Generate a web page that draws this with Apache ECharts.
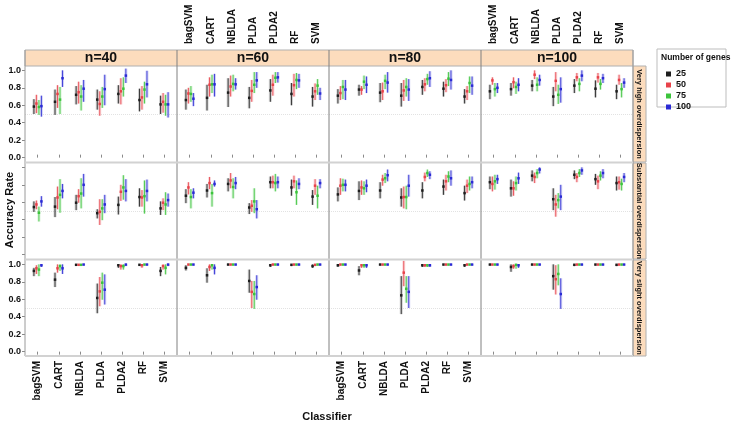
<!DOCTYPE html>
<html><head><meta charset="utf-8">
<script src="https://cdn.jsdelivr.net/npm/echarts@6/dist/echarts.min.js"></script>
<style>html,body{margin:0;padding:0;background:#fff}#c{width:733px;height:426px}</style>
</head><body><div id="c"></div>
<script>
// ---- data ----
const classifiers = ['bagSVM','CART','NBLDA','PLDA','PLDA2','RF','SVM'];
const sampleSizes = ['n=40','n=60','n=80','n=100'];
const dispersions = ['Very high overdispersion','Substantial overdispersion','Very slight overdispersion'];
const genes = ['25','50','75','100'];
const yTicks = [0, 0.2, 0.4, 0.6, 0.8, 1.0];
const refLine = 0.5;
// each panel: 4 gene groups (25,50,75,100); each group: 7 classifiers as [mean, low, high]
const VH_40 = [
 [[0.585,0.50,0.67],[0.64,0.49,0.78],[0.72,0.61,0.82],[0.665,0.55,0.78],[0.73,0.62,0.83],[0.66,0.53,0.79],[0.61,0.50,0.71]],
 [[0.62,0.51,0.72],[0.73,0.57,0.83],[0.75,0.62,0.87],[0.615,0.48,0.76],[0.76,0.61,0.91],[0.69,0.55,0.82],[0.64,0.515,0.74]],
 [[0.58,0.49,0.66],[0.665,0.50,0.81],[0.70,0.54,0.83],[0.70,0.57,0.81],[0.79,0.70,0.92],[0.78,0.62,0.87],[0.61,0.48,0.72]],
 [[0.59,0.47,0.71],[0.91,0.81,1.0],[0.79,0.64,0.89],[0.785,0.60,0.95],[0.94,0.855,1.02],[0.84,0.69,0.995],[0.61,0.46,0.75]]
];
const VH_60 = [
 [[0.66,0.55,0.78],[0.685,0.54,0.835],[0.745,0.58,0.91],[0.685,0.565,0.81],[0.77,0.64,0.90],[0.73,0.60,0.855],[0.70,0.585,0.81]],
 [[0.735,0.62,0.80],[0.835,0.70,0.92],[0.815,0.70,0.94],[0.765,0.64,0.89],[0.835,0.71,0.95],[0.83,0.70,0.96],[0.76,0.66,0.85]],
 [[0.73,0.64,0.82],[0.84,0.74,0.95],[0.845,0.76,0.95],[0.835,0.74,0.98],[0.915,0.855,0.98],[0.89,0.785,0.97],[0.825,0.72,0.90]],
 [[0.675,0.59,0.74],[0.84,0.70,0.96],[0.84,0.78,0.91],[0.885,0.80,0.98],[0.92,0.86,0.98],[0.885,0.80,0.96],[0.735,0.66,0.80]]
];
const VH_80 = [
 [[0.71,0.62,0.785],[0.78,0.71,0.835],[0.745,0.635,0.855],[0.71,0.585,0.855],[0.81,0.72,0.89],[0.79,0.70,0.87],[0.70,0.62,0.785]],
 [[0.74,0.66,0.82],[0.78,0.72,0.82],[0.76,0.66,0.86],[0.77,0.65,0.89],[0.84,0.76,0.91],[0.83,0.75,0.90],[0.76,0.66,0.82]],
 [[0.81,0.67,0.89],[0.87,0.785,0.94],[0.88,0.785,0.95],[0.81,0.70,0.91],[0.90,0.835,0.96],[0.905,0.82,0.98],[0.855,0.74,0.93]],
 [[0.78,0.66,0.89],[0.835,0.74,0.93],[0.86,0.745,0.98],[0.78,0.65,0.90],[0.91,0.81,0.99],[0.89,0.78,1.0],[0.825,0.72,0.93]]
];
const VH_100 = [
 [[0.76,0.67,0.835],[0.785,0.71,0.855],[0.825,0.76,0.89],[0.70,0.59,0.81],[0.825,0.74,0.90],[0.79,0.69,0.885],[0.76,0.67,0.835]],
 [[0.885,0.835,0.92],[0.865,0.795,0.92],[0.95,0.90,1.0],[0.88,0.76,0.98],[0.92,0.875,0.97],[0.92,0.86,0.97],[0.89,0.835,0.95]],
 [[0.785,0.70,0.855],[0.81,0.73,0.87],[0.835,0.76,0.92],[0.72,0.615,0.835],[0.845,0.76,0.91],[0.845,0.78,0.90],[0.785,0.69,0.855]],
 [[0.80,0.74,0.855],[0.835,0.76,0.91],[0.89,0.825,0.95],[0.785,0.63,0.92],[0.94,0.875,1.0],[0.91,0.855,0.96],[0.86,0.80,0.91]]
];
const SO_40 = [
 [[0.545,0.49,0.61],[0.55,0.43,0.66],[0.595,0.51,0.685],[0.475,0.415,0.52],[0.57,0.46,0.665],[0.66,0.55,0.76],[0.53,0.455,0.61]],
 [[0.575,0.52,0.62],[0.655,0.52,0.78],[0.67,0.595,0.75],[0.49,0.34,0.635],[0.72,0.615,0.80],[0.655,0.55,0.74],[0.595,0.51,0.645]],
 [[0.48,0.38,0.55],[0.685,0.48,0.865],[0.70,0.53,0.875],[0.53,0.395,0.635],[0.77,0.63,0.91],[0.67,0.47,0.85],[0.575,0.455,0.715]],
 [[0.61,0.55,0.67],[0.73,0.645,0.81],[0.80,0.665,0.925],[0.575,0.475,0.685],[0.73,0.61,0.865],[0.73,0.61,0.86],[0.625,0.55,0.70]]
];
const SO_60 = [
 [[0.675,0.59,0.75],[0.735,0.655,0.81],[0.81,0.725,0.875],[0.54,0.465,0.59],[0.83,0.76,0.895],[0.77,0.675,0.86],[0.665,0.57,0.74]],
 [[0.77,0.69,0.83],[0.82,0.75,0.89],[0.85,0.76,0.935],[0.56,0.49,0.625],[0.83,0.76,0.905],[0.84,0.76,0.905],[0.79,0.685,0.865]],
 [[0.66,0.53,0.75],[0.705,0.55,0.81],[0.775,0.645,0.875],[0.61,0.475,0.76],[0.82,0.725,0.925],[0.715,0.57,0.85],[0.675,0.53,0.79]],
 [[0.71,0.645,0.76],[0.81,0.78,0.85],[0.82,0.75,0.89],[0.52,0.415,0.625],[0.83,0.76,0.895],[0.81,0.75,0.875],[0.82,0.76,0.865]]
];
const SO_80 = [
 [[0.69,0.61,0.77],[0.73,0.625,0.84],[0.735,0.645,0.83],[0.655,0.55,0.76],[0.735,0.645,0.83],[0.78,0.685,0.86],[0.705,0.62,0.79]],
 [[0.79,0.685,0.875],[0.77,0.685,0.85],[0.86,0.79,0.915],[0.66,0.53,0.78],[0.89,0.84,0.94],[0.84,0.735,0.915],[0.79,0.705,0.86]],
 [[0.80,0.725,0.87],[0.76,0.685,0.84],[0.875,0.82,0.935],[0.66,0.52,0.79],[0.935,0.89,0.975],[0.895,0.83,0.955],[0.81,0.735,0.895]],
 [[0.80,0.725,0.86],[0.79,0.715,0.86],[0.91,0.84,0.975],[0.79,0.665,0.915],[0.915,0.865,0.955],[0.875,0.79,0.965],[0.83,0.76,0.895]]
];
const SO_100 = [
 [[0.83,0.75,0.895],[0.76,0.665,0.86],[0.905,0.84,0.965],[0.635,0.51,0.76],[0.915,0.865,0.965],[0.865,0.80,0.925],[0.82,0.735,0.895]],
 [[0.81,0.725,0.895],[0.76,0.675,0.84],[0.89,0.82,0.94],[0.575,0.435,0.685],[0.89,0.83,0.935],[0.84,0.75,0.905],[0.83,0.745,0.895]],
 [[0.84,0.745,0.915],[0.82,0.735,0.895],[0.935,0.875,0.98],[0.625,0.53,0.705],[0.935,0.89,0.98],[0.905,0.85,0.955],[0.81,0.735,0.87]],
 [[0.865,0.81,0.915],[0.875,0.81,0.94],[0.975,0.93,1.0],[0.665,0.51,0.80],[0.965,0.915,1.0],[0.935,0.875,0.98],[0.89,0.83,0.935]]
];
const VS_40 = [
 [[0.925,0.865,0.96],[0.825,0.74,0.905],[0.995,0.99,1.0],[0.615,0.44,0.78],[0.99,0.96,1.0],[0.995,0.985,1.0],[0.925,0.865,0.97]],
 [[0.955,0.89,0.99],[0.955,0.905,1.0],[0.995,0.985,1.0],[0.69,0.52,0.855],[0.98,0.94,1.0],[0.99,0.96,1.0],[0.98,0.94,1.0]],
 [[0.94,0.865,1.0],[0.98,0.925,1.0],[0.995,0.99,1.0],[0.79,0.595,0.905],[0.98,0.94,1.0],[0.998,0.99,1.0],[0.96,0.885,1.0]],
 [[0.99,0.97,1.0],[0.955,0.89,1.0],[0.998,0.99,1.0],[0.71,0.54,0.885],[0.998,0.98,1.0],[0.998,0.99,1.0],[0.998,0.98,1.0]]
];
const VS_60 = [
 [[0.96,0.93,0.99],[0.875,0.79,0.955],[0.998,0.99,1.0],[0.81,0.675,0.94],[0.99,0.97,1.0],[0.995,0.98,1.0],[0.98,0.96,1.0]],
 [[0.998,0.99,1.0],[0.97,0.925,1.0],[0.998,0.99,1.0],[0.685,0.50,0.81],[0.998,0.99,1.0],[0.998,0.99,1.0],[0.995,0.98,1.0]],
 [[0.998,0.99,1.0],[0.99,0.94,1.0],[0.998,0.99,1.0],[0.66,0.49,0.81],[0.998,0.99,1.0],[0.998,0.99,1.0],[0.998,0.99,1.0]],
 [[0.998,0.99,1.0],[0.96,0.885,1.0],[0.998,0.99,1.0],[0.74,0.595,0.875],[0.998,0.99,1.0],[0.998,0.99,1.0],[0.998,0.99,1.0]]
];
const VS_80 = [
 [[0.99,0.97,1.0],[0.93,0.875,0.98],[0.998,0.99,1.0],[0.645,0.43,0.865],[0.99,0.97,1.0],[0.998,0.99,1.0],[0.99,0.97,1.0]],
 [[0.998,0.99,1.0],[0.99,0.96,1.0],[0.998,0.99,1.0],[0.905,0.75,1.04],[0.99,0.97,1.0],[0.998,0.99,1.0],[0.998,0.99,1.0]],
 [[0.998,0.99,1.0],[0.99,0.96,1.0],[0.998,0.99,1.0],[0.72,0.56,0.865],[0.99,0.97,1.0],[0.998,0.99,1.0],[0.998,0.99,1.0]],
 [[0.998,0.99,1.0],[0.99,0.96,1.0],[0.998,0.99,1.0],[0.685,0.50,0.865],[0.99,0.97,1.0],[0.998,0.99,1.0],[0.998,0.99,1.0]]
];
const VS_100 = [
 [[0.998,0.99,1.0],[0.97,0.915,1.0],[0.998,0.99,1.0],[0.865,0.71,1.0],[0.995,0.98,1.0],[0.998,0.99,1.0],[0.995,0.98,1.0]],
 [[0.998,0.99,1.0],[0.98,0.95,1.0],[0.998,0.99,1.0],[0.83,0.655,0.99],[0.998,0.99,1.0],[0.998,0.99,1.0],[0.998,0.99,1.0]],
 [[0.998,0.99,1.0],[0.995,0.95,1.0],[0.998,0.99,1.0],[0.89,0.76,1.0],[0.998,0.99,1.0],[0.998,0.99,1.0],[0.998,0.99,1.0]],
 [[0.998,0.99,1.0],[0.99,0.96,1.0],[0.998,0.99,1.0],[0.66,0.49,0.84],[0.998,0.99,1.0],[0.998,0.99,1.0],[0.998,0.99,1.0]]
];
const panelRows = [[VH_40,VH_60,VH_80,VH_100],[SO_40,SO_60,SO_80,SO_100],[VS_40,VS_60,VS_80,VS_100]];

// ---- layout & style ----
const geneColors = ['#1e1e1e','#e8424a','#3cc43c','#2a2ad4'];
const FONT = "'Liberation Sans', Arial, sans-serif";
const colLeft = [25,177,329,481];
const rowTop = [66,163,260];
const PW = 152, PH = 96;
const stripTop = 50, stripColor = '#fcdcbd';
const catIdx = classifiers.map((_, i) => i + 1);

function makeRender(g) {
  return function (params, api) {
    const x = api.value(0), m = api.value(1), lo = api.value(2), hi = api.value(3);
    const pm = api.coord([x, m]), pl = api.coord([x, lo]), ph = api.coord([x, hi]);
    const px = pm[0] + (g - 1.5) * 2.5;
    const col = geneColors[g];
    return { type: 'group', children: [
      { type: 'rect', shape: { x: px - 1.5, y: ph[1], width: 3, height: pl[1] - ph[1] }, style: { fill: col, opacity: 0.2 } },
      { type: 'line', shape: { x1: px, y1: ph[1], x2: px, y2: pl[1] }, style: { stroke: col, lineWidth: 1, opacity: 0.85 } },
      { type: 'rect', shape: { x: px - 1.25, y: pm[1] - 1.25, width: 2.5, height: 2.5 }, style: { fill: col } }
    ]};
  };
}

const grid = [], xAxis = [], yAxis = [], series = [];
for (let r = 0; r < 3; r++) {
  for (let c = 0; c < 4; c++) {
    const p = r * 4 + c;
    grid.push({ left: colLeft[c], top: rowTop[r], width: PW, height: PH, show: false });
    const showXLab = (r === 0 && c % 2 === 1) || (r === 2 && c % 2 === 0);
    xAxis.push({
      gridIndex: p, type: 'value', min: 0.4, max: 7.6,
      show: r !== 1,
      position: r === 0 ? 'top' : 'bottom',
      offset: r === 0 ? (rowTop[0] - stripTop) : 0,
      axisLine: { show: false },
      splitLine: { show: false },
      axisTick: { show: true, customValues: catIdx, length: 3, lineStyle: { color: '#8a8a8a' } },
      axisLabel: {
        show: showXLab, customValues: catIdx, rotate: 90, margin: r === 0 ? 6 : 5,
        formatter: v => classifiers[Math.round(v) - 1] || '',
        fontFamily: FONT, fontSize: 10, fontWeight: 'bold', color: '#111'
      }
    });
    yAxis.push({
      gridIndex: p, type: 'value', min: -0.05, max: 1.05,
      show: c === 0,
      axisLine: { show: false },
      splitLine: { show: false },
      axisTick: { show: true, customValues: yTicks, length: 3, lineStyle: { color: '#8a8a8a' } },
      axisLabel: {
        show: r !== 1, customValues: yTicks, margin: 4,
        formatter: v => v.toFixed(1),
        fontFamily: FONT, fontSize: 9, fontWeight: 'bold', color: '#111'
      }
    });
    const panel = panelRows[r][c];
    for (let g = 0; g < 4; g++) {
      const s = {
        type: 'custom', name: genes[g], xAxisIndex: p, yAxisIndex: p,
        itemStyle: { color: geneColors[g] },
        clip: true,
        renderItem: makeRender(g),
        encode: { x: 0, y: [1, 2, 3] },
        data: panel[g].map((t, i) => [i + 1, t[0], t[1], t[2]]),
        z: 3
      };
      if (g === 0) {
        s.markLine = { silent: true, symbol: 'none', label: { show: false },
          lineStyle: { type: 'dotted', color: '#e2e2e2', width: 1 },
          data: [{ yAxis: refLine }], z: 1 };
      }
      series.push(s);
    }
  }
}

// frame / strips / labels
const graphic = [];
const right = colLeft[3] + PW;
const bottom = rowTop[2] + PH;
graphic.push({ type: 'rect', shape: { x: colLeft[0], y: stripTop, width: right - colLeft[0], height: rowTop[0] - stripTop }, style: { fill: stripColor, stroke: '#b0b0b0', lineWidth: 1 }, z: 0 });
sampleSizes.forEach((t, c) => graphic.push({ type: 'text', x: colLeft[c] + PW / 2, y: stripTop + 8.5, style: { text: t, fill: '#111', font: 'bold 14px ' + FONT, textAlign: 'center', textVerticalAlign: 'middle' }, z: 5 }));
dispersions.forEach((t, r) => {
  graphic.push({ type: 'rect', shape: { x: right, y: rowTop[r], width: 13, height: PH }, style: { fill: stripColor, stroke: '#b0b0b0', lineWidth: 1 }, z: 0 });
  graphic.push({ type: 'text', x: right + 6.5, y: rowTop[r] + PH / 2, rotation: -Math.PI / 2, style: { text: t, fill: '#111', font: 'bold 7.5px ' + FONT, textAlign: 'center', textVerticalAlign: 'middle' }, z: 5 });
});
[colLeft[0], colLeft[1], colLeft[2], colLeft[3], right].forEach((x, i) => graphic.push({ type: 'line', shape: { x1: x, y1: stripTop, x2: x, y2: bottom }, style: { stroke: (i === 0 || i === 4) ? '#9a9a9a' : '#808080', lineWidth: 1 }, z: 4 }));
[rowTop[1] - 0.5, rowTop[2] - 0.5, bottom].forEach(y => graphic.push({ type: 'rect', shape: { x: colLeft[0], y: y - 1, width: right - colLeft[0], height: 2 }, style: { fill: '#d2d2d2' }, z: 4 }));
graphic.push({ type: 'text', x: 10, y: 210, rotation: Math.PI / 2, style: { text: 'Accuracy Rate', fill: '#111', font: 'bold 11px ' + FONT, textAlign: 'center', textVerticalAlign: 'middle' } });
graphic.push({ type: 'text', x: 327, y: 417, style: { text: 'Classifier', fill: '#111', font: 'bold 11px ' + FONT, textAlign: 'center', textVerticalAlign: 'middle' } });
graphic.push({ type: 'rect', shape: { x: 657, y: 49, width: 69, height: 58 }, style: { fill: '#fff', stroke: '#bdbdbd', lineWidth: 1 }, z: 0 });
graphic.push({ type: 'text', x: 661, y: 58, style: { text: 'Number of genes', fill: '#111', font: 'bold 8.5px ' + FONT, textVerticalAlign: 'middle' }, z: 5 });

const chart = echarts.init(document.getElementById('c'), null, { renderer: 'canvas' });
chart.setOption({
  animation: false,
  backgroundColor: '#fff',
  textStyle: { fontFamily: FONT },
  grid, xAxis, yAxis, series, graphic,
  legend: {
    data: genes, orient: 'vertical', left: 661, top: 64,
    icon: 'rect', itemWidth: 5, itemHeight: 5, itemGap: 1,
    textStyle: { fontFamily: FONT, fontSize: 9, fontWeight: 'bold', color: '#111', lineHeight: 10 },
    selectedMode: false
  }
});
</script></body></html>
